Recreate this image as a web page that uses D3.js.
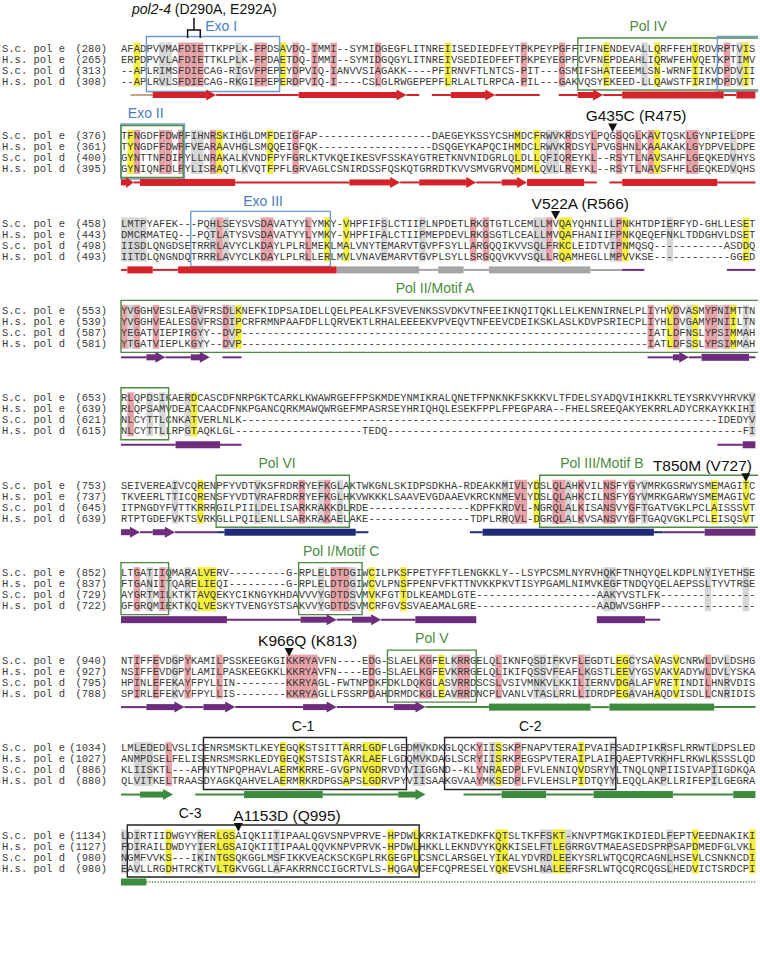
<!DOCTYPE html>
<html>
<head>
<meta charset="utf-8">
<script src="https://cdn.jsdelivr.net/npm/d3@7"></script>
<style>
body { margin: 0; background: #fff; }
</style>
</head>
<body>
<div id="chart"></div>
<script>
const gap = n => '-'.repeat(n)

const rowNames = ['S.c. pol e', 'H.s. pol e', 'S.c. pol d', 'H.s. pol d']

const startNums = [
    [280, 265, 313, 308], [376, 361, 400, 395], [458, 443, 498, 493], [553, 539, 587, 581],
    [653, 639, 621, 615], [753, 737, 645, 639], [852, 837, 729, 722], [940, 927, 795, 788],
    [1034, 1027, 886, 880], [1134, 1127, 980, 980]
]

const seqScPolE = [
    'AFADPVVMAFDIETTKPPLK-FPDSAVDQ-IMMI--SYMIDGEGFLITNREIISEDIEDFEYTPKPEYPGFFTIFNENDEVALLQRFFEHIRDVRPTVIS',
    'TFNGDFFDWPFIHNRSKIHGLDMFDEIGFAP' + gap(18) + 'DAEGEYKSSYCSHMDCFRWVKRDSYLPQGSQGLKAVTQSKLGYNPIELDPE',
    'LMTPYAFEK---PQHLSEYSVSDAVATYYLYMKY-VHPFIFSLCTIIPLNPDETLRKGTGTLCEMLLMVQAYQHNILLPNKHTDPIERFYD-GHLLESET',
    'YVGGHVESLEAGVFRSDLKNEFKIDPSAIDELLQELPEALKFSVEVENKSSVDKVTNFEEIKNQITQKLLELKENNIRNELPLIYHVDVASMYPNIMTTN',
    'RLQPDSIKAERDCASCDFNRPGKTCARKLKWAWRGEFFPSKMDEYNMIKRALQNETFPNKNKFSKKKVLTFDELSYADQVIHIKKRLTEYSRKVYHRVKV',
    'SEIVEREAIVCQRENPFYVDTVKSFRDRRYEFKGLAKTWKGNLSKIDPSDKHA-RDEAKKMIVLYDSLQLAHKVILNSFYGYVMRKGSRWYSMEMAGITC',
    'LTGATIIQMARALVERV' + gap(9) + 'G-RPLELDTDGIWCILPKSFPETYFFTLENGKKLY--LSYPCSMLNYRVHQKFTNHQYQELKDPLNYIYETHSE',
    'NTIFFEVDGPYKAMILPSSKEEGKGIKKRYAVFN----EDG-SLAELKGFELKRRGELQLIKNFQSDIFKVFLEGDTLEGCYSAVASVCNRWLDVLDSHG',
    'LMLEDEDLVSLICENRSMSKTLKEYEGQKSTSITTARRLGDFLGEDMVKDKGLQCKYIISSKPFNAPVTERAIPVAIFSADIPIKRSFLRRWTLDPSLED',
    'LDIRTIIDWGYYRERLGSAIQKIITIPAALQGVSNPVPRVE-HPDWLKRKIATKEDKFKQTSLTKFFSKT-KNVPTMGKIKDIEDLFEPTVEEDNAKIKI'
]

const seqHsPolE = [
    'ERPDPVVLAFDIETTKLPLK-FPDAETDQ-IMMI--SYMIDGQGYLITNREIVSEDIEDFEFTPKPEYEGPFCVFNEPDEAHLIQRWFEHVQETKPTIMV',
    'TYNGDFFDWPFVEARAAVHGLSMQQEIGFQK' + gap(18) + 'DSQGEYKAPQCIHMDCLRWVKRDSYLPVGSHNLKAAAKAKLGYDPVELDPE',
    'DMCRMATEQ---PQTLATYSVSDAVATYYLYMKY-VHPFIFALCTIIPMEPDEVLRKGSGTLCEALLMVQAFHANIIFPNKQEQEFNKLTDDGHVLDSET',
    'YVGGHVEALESGVFRSDIPCRFRMNPAAFDFLLQRVEKTLRHALEEEEKVPVEQVTNFEEVCDEIKSKLASLKDVPSRIECPLIYHLDVGAMYPNIILTN',
    'RLQPSAMVDEATCAACDFNKPGANCQRKMAWQWRGEFMPASRSEYHRIQHQLESEKFPPLFPEGPARA--FHELSREEQAKYEKRRLADYCRKAYKKIHI',
    'TKVEERLTTICQRENSFYVDTVRAFRDRRYEFKGLHKVWKKKLSAAVEVGDAAEVKRCKNMEVLYDSLQLAHKCILNSFYGYVMRKGARWYSMEMAGIVC',
    'FTGANIITQARELIEQI' + gap(9) + 'G-RPLELDTDGIWCVLPNSFPENFVFKTTNVKKPKVTISYPGAMLNIMVKEGFTNDQYQELAEPSSLTYVTRSE',
    'NSIFFEVDGPYLAMILPASKEEGKKLKKRYAVFN----EDG-SLAELKGFEVKRRGELQLIKIFQSSVFEAFLKGSTLEEVYGSVAKVADYWLDVLYSKA',
    'ANMPDSELFELISENRSMSRKLEDYGEQKSTSISTAKRLAEFLGDQMVKDAGLSCRYIISRKPEGSPVTERAIPLAIFQAEPTVRKHFLRKWLKSSSLQD',
    'FDIRAILDWDYYIERLGSAIQKIITIPAALQQVKNPVPRVK-HPDWLHKKLLEKNDVYKQKKISELFTLEGRRGVTMAEASEDSPRPSAPDMEDFGLVKL'
]

const seqScPolD = [
    '--APLRIMSFDIECAG-RIGVFPEPEYDPVIQ-IANVVSIAGAKK----PFIRNVFTLNTCS-PIT---GSMIFSHATEEEMLSN-WRNFIIKVDPDVII',
    'GYNTTNFDIPYLLNRAKALKVNDFPYFGRLKTVKQEIKESVFSSKAYGTRETKNVNIDGRLQLDLLQFIQREYKL--RSYTLNAVSAHFLGEQKEDVHYS',
    'IISDLQNGDSETRRRLAVYCLKDAYLPLRLMEKLMALVNYTEMARVTGVPFSYLLARGQQIKVVSQLFRKCLEIDTVIPNMQSQ' + gap(11) + 'ASDDQ',
    'YEGATVIEPIRGYY--DVP' + gap(64) + 'IATLDFNSLYPSIMMAH',
    'NLCYTTLCNKATVERLNLK' + gap(75) + 'IDEDYV',
    'ITPNGDYFVTTKRRRGILPIILDELISARKRAKKDLRDE' + gap(16) + 'KDPFKRDVL-NGRQLALKISANSVYGFTGATVGKLPCLAISSSVT',
    'AYGRTMILKTKTAVQEKYCIKNGYKHDAVVVYGDTDSVMVKFGTTDLKEAMDLGTE' + gap(19) + 'AAKYVSTLFK' + gap(15),
    'HPINLEFEKAYFPYLLIN' + gap(8) + 'KKRYAGL-FWTNPDKFDKLDQKGLASVRRDSCSLVSIVMNKVLKKILIERNVDGALAFVRETINDILHNRVDIS',
    'KLIISKTL---APNYTNPQPHAVLAERMKRRE-GVGPNVGDRVDYVIIGGND--KLYNRAEDPLFVLENNIQVDSRYYLTNQLQNPIISIVAPIIGDKQA',
    'NGMFVVKS---IKINTGSQKGGLMSFIKKVEACKSCKGPLRKGEGPLCSNCLARSGELYIKALYDVRDLEEKYSRLWTQCQRCAGNLHSEVLCSNKNCDI'
]

const seqHsPolD = [
    '--APLRVLSFDIECAG-RKGIFPEPERDPVIQ-I----CSLGLRWGEPEPFLRLALTLRPCA-PIL---GAKVQSYEKEED-LLQAWSTFIRIMDPDVIT',
    'GYNIQNFDLPYLISRAQTLKVQTFPFLGRVAGLCSNIRDSSFQSKQTGRRDTKVVSMVGRVQMDMLQVLLREYKL--RSYTLNAVSFHFLGEQKEDVQHS',
    'IITDLQNGNDQTRRRLAVYCLKDAYLPLRLLERLMVLVNAVEMARVTGVPLSYLLSRGQQVKVVSQLLRQAMHEGLLMPVVKSE' + gap(12) + 'GGED',
    'YTGATVIEPLKGYY--DVP' + gap(64) + 'IATLDFSSLYPSIMMAH',
    'NLCYTTLLRPGTAQKLGL' + gap(20) + 'TEDQ' + gap(56) + 'FI',
    'RTPTGDEFVKTSVRKGLLPQILENLLSARKRAKAELAKE' + gap(16) + 'TDPLRRQVL-DGRQLALKVSANSVYGFTGAQVGKLPCLEISQSVT',
    'GFGRQMIEKTKQLVESKYTVENGYSTSAKVVYGDTDSVMCRFGVSSVAEAMALGRE' + gap(19) + 'AADWVSGHFP' + gap(15),
    'SPIRLEFEKVYFPYLLIS' + gap(8) + 'KKRYAGLLFSSRPDAHDRMDCKGLEAVRRDNCPLVANLVTASLRRLLIDRDPEGAVAHAQDVISDLLCNRIDIS',
    'QLVITKELTRAASDYAGKQAHVELAERMRKRDPGSAPSLGDRVPYVIISAAKGVAAYMKSEDPLFVLEHSLPIDTQYYLEQQLAKPLLRIFEPILGEGRA',
    'EAVLLRGDHTRCKTVLTGKVGGLLAFAKRRNCCIGCRTVLS-HQGAVCEFCQPRESELYQKEVSHLNALEERFSRLWTQCQRCQGSLHEDVICTSRDCPI'
]

// highlighted alignment columns per block
const hlRed = [
    [9, 10, 11, 12, 21, 22, 27, 30, 33, 40, 63, 69, 95],
    [2, 6, 7, 9, 14, 27, 70, 74, 78, 81, 83, 89, 90],
    [15, 22, 23, 29, 55, 57, 67, 78],
    [0, 2, 5, 11, 16, 83, 87, 92, 93, 95],
    [1],
    [28, 32, 62, 63, 68, 69, 72, 76, 77, 80],
    [2, 6, 33, 34, 35],
    [2, 5, 10, 15, 26, 27, 28, 29, 30, 39, 47, 48, 53, 54, 59, 72, 92],
    [7, 56, 62],
    []
]
const hlYellow = [
    [2, 25, 51, 76, 84, 90, 98],
    [1, 15, 23, 62, 65, 84],
    [32, 35, 69, 70, 79, 98],
    [18, 86, 90, 96],
    [11],
    [12, 65, 93, 98],
    [12, 13, 14, 39, 44],
    [50, 78, 79, 84, 87],
    [25, 28, 35, 38, 39, 40, 59, 72],
    [7, 15, 16, 17, 42, 46, 59, 60, 68, 69, 90, 99]
]
const hlGray = [
    [6, 7, 18, 82, 97],
    [11, 12, 19, 67, 68, 96],
    [0, 1, 2, 3, 14, 16, 41, 47, 65, 66, 77, 86],
    [1, 12, 17, 89, 94, 98],
    [4, 6, 10, 99],
    [8, 21, 31, 34, 60, 70, 82],
    [4, 7, 10, 31, 36, 76, 77, 92, 98],
    [8, 52, 65, 66, 68, 73, 80, 95],
    [2, 3, 4, 46, 47, 58, 77, 85, 93],
    [0, 2, 12, 24, 66, 67, 70, 86]
]

// secondary structure: [from col, to col, shape, colour key]
const secStruct = [
    [[1.5, 5, 'line', 't'], [5, 15, 'arrow', 'r'], [15, 28, 'line', 'r'], [28, 45, 'arrow', 'r'], [45, 47, 'line', 'r'],
     [49, 52, 'line', 'r'], [52, 59, 'arrow', 'r'], [59, 66, 'line', 'r'], [69, 72, 'line', 'r'], [72, 76, 'arrow', 'r'],
     [76, 79, 'line', 'r'], [79, 95, 'bar', 'r'], [95, 97, 'line', 'r'], [97, 100, 'bar', 'r']],
    [[0, 2, 'arrow', 'r'], [2, 3, 'line', 'r'], [3, 18, 'bar', 'r'], [18, 36, 'line', 'r'], [36, 44, 'arrow', 'r'],
     [44, 47, 'line', 'r'], [47, 56, 'arrow', 'r'], [56, 60, 'line', 'r'], [60, 64, 'arrow', 'r'], [64, 73, 'bar', 'r'],
     [73, 75, 'line', 'r'], [77, 79, 'line', 'r'], [79, 94, 'bar', 'r'], [94, 100, 'line', 'r']],
    [[0, 1, 'line', 'r'], [1, 5, 'bar', 'r'], [5, 9, 'line', 'r'], [9, 34, 'bar', 'r'], [34, 47, 'bar', 'g'],
     [47, 50, 'line', 'g'], [50, 54, 'bar', 'g'], [54, 58, 'line', 'g'], [58, 74, 'bar', 'g'], [74, 79, 'line', 'g'],
     [79, 82.5, 'line', 'p'], [95.5, 100, 'line', 'p']],
    [[0, 4, 'line', 'p'], [4, 7, 'arrow', 'p'], [7, 11, 'line', 'p'], [11, 14, 'arrow', 'p'], [16, 19, 'line', 'p'],
     [83, 87, 'line', 'p'], [87, 89.5, 'arrow', 'p'], [89.5, 91.5, 'line', 'p'], [91.5, 99, 'bar', 'p'], [99, 100, 'line', 'p']],
    [[0, 8.6, 'line', 'p'], [8.6, 15.6, 'bar', 'p'], [15.6, 19, 'line', 'p'], [94, 98, 'line', 'p'], [98, 100, 'bar', 'p']],
    [[0, 3, 'arrow', 'p'], [3, 5, 'line', 'p'], [5, 8.5, 'arrow', 'p'], [8.5, 15, 'line', 'p'], [15, 16.3, 'line', 'b'],
     [16.3, 37, 'bar', 'b'], [37, 39, 'line', 'b'], [55, 57, 'line', 'b'], [57, 84, 'bar', 'b'], [84, 85.5, 'line', 'b'],
     [85.5, 92, 'line', 'p'], [92, 100, 'bar', 'p']],
    [[0, 16.7, 'bar', 'p'], [16.7, 28.3, 'line', 'p'], [28.3, 34, 'arrow', 'p'], [34, 36.4, 'line', 'p'], [36.4, 41, 'arrow', 'p'],
     [41, 46.4, 'line', 'p'], [46.4, 56, 'bar', 'p'], [75, 82.6, 'bar', 'p'], [82.6, 85, 'line', 'p']],
    [[0, 4, 'line', 'p'], [4, 10, 'arrow', 'p'], [10, 13, 'line', 'p'], [13, 18, 'arrow', 'p'], [18, 28.7, 'line', 'p'],
     [28.7, 34, 'arrow', 'p'], [34, 43, 'line', 'p'], [43, 48, 'arrow', 'p'], [48, 58, 'line', 'e'], [58, 74, 'bar', 'e'],
     [74, 77, 'line', 'e'], [77, 93.5, 'bar', 'e'], [93.5, 100, 'line', 'e']],
    [[0, 3, 'line', 'e'], [3, 8.2, 'arrow', 'e'], [11.7, 19.4, 'line', 'e'], [19.4, 31.8, 'bar', 'e'], [31.8, 43.7, 'line', 'e'],
     [43.7, 48, 'arrow', 'e'], [54, 60, 'line', 'e'], [60, 67, 'bar', 'e'], [67, 74.5, 'line', 'e'], [74.5, 87, 'bar', 'e'],
     [87, 96.5, 'line', 'e'], [96.5, 100, 'bar', 'e']],
    [[0, 4, 'bar', 'e'], [4, 100, 'dots', 'e']]
]

// motif boxes: block, from col, to col (null = runs on), kind, label, label centre col
const boxes = [
    { b: 0, c0: 4, c1: 25, kind: 'exo', label: 'Exo I', lc: 15.8 },
    { b: 0, c0: 72, c1: null, kind: 'pol', label: 'Pol IV', lc: 83.1 },
    { b: 0, c0: 94, c1: null, kind: 'exo', label: '', lc: 0 },
    { b: 1, c0: 0, c1: 10, kind: 'exo', label: 'Exo II', lc: 3.9 },
    { b: 1, c0: 0, c1: 9.8, kind: 'pol', label: '', lc: 0 },
    { b: 2, c0: 11, c1: 33, kind: 'exo', label: 'Exo III', lc: 22.4 },
    { b: 3, c0: 0, c1: null, kind: 'pol', label: 'Pol II/Motif A', lc: 49.5 },
    { b: 4, c0: 0, c1: 7.5, kind: 'pol', label: '', lc: 0 },
    { b: 5, c0: 15, c1: 36, kind: 'pol', label: 'Pol VI', lc: 24.6 },
    { b: 5, c0: 66, c1: null, kind: 'pol', label: 'Pol III/Motif B', lc: 75.8 },
    { b: 6, c0: 0, c1: 7.5, kind: 'pol', label: '', lc: 0 },
    { b: 6, c0: 28, c1: 38, kind: 'pol', label: 'Pol I/Motif C', lc: 34.7 },
    { b: 7, c0: 42, c1: 56, kind: 'pol', label: 'Pol V', lc: 49 },
    { b: 8, c0: 13, c1: 45, kind: 'c', label: 'C-1', lc: 28.7 },
    { b: 8, c0: 51, c1: 78, kind: 'c', label: 'C-2', lc: 64.5 },
    { b: 9, c0: 1, c1: 47, kind: 'c', label: 'C-3', lc: 10.9 }
]

// point mutations
const mutations = [
    { b: 1, col: 77, label: 'G435C (R475)' },
    { b: 2, col: 68, label: 'V522A (R566)' },
    { b: 5, col: 98, label: 'T850M (V727)' },
    { b: 7, col: 26, label: 'K966Q (K813)' },
    { b: 9, col: 18, label: 'A1153D (Q995)' }
]
const mutLabelDx = [-27, -24, -93, -31, -5]

const width = 760
const height = 978

const mono = "'Liberation Mono', 'DejaVu Sans Mono', monospace"
const sans = "'Liberation Sans', Arial, sans-serif"

const colors = {
    r: '#d42228', t: '#c9a585', g: '#a5a5a5', p: '#6d2c7d', b: '#1f2b78', e: '#3d8b3d'
}
const boxColor = { exo: '#6f9bd2', pol: '#4f8a43', c: '#222' }
const labelColor = { exo: '#4a7cc4', pol: '#4b8a3e', c: '#111' }

const svg = d3.select('#chart').append('svg')
    .attr('width', width)
    .attr('height', height)
    .style('background', '#fff')

const x = d3.scaleLinear().domain([0, 100]).range([121, 755.4])
const cw = x(1) - x(0)
const blockY = d3.scaleLinear().domain([0, 9]).range([48, 835])
const rowY = d3.scaleLinear().domain([0, 3]).range([0, 33])
const rowH = rowY(1) - rowY(0)

const seqs = d3.range(10).map(b => [seqScPolE[b], seqHsPolE[b], seqScPolD[b], seqHsPolD[b]]
    .map(s => s.padEnd(100, '-').slice(0, 100)))

const blocks = svg.selectAll('.block')
    .data(d3.range(10))
    .enter().append('g')
    .attr('class', 'block')
    .attr('transform', b => `translate(0,${blockY(b)})`)

// column shading
const shade = [['#d6d6d6', hlGray], ['#e6a2a7', hlRed], ['#f4ef3a', hlYellow]]
shade.forEach(([fill, cols]) => {
    blocks.selectAll(null)
        .data(b => cols[b])
        .enter().append('rect')
        .attr('x', c => x(c))
        .attr('y', rowY(0) - rowH / 2)
        .attr('width', cw + 0.2)
        .attr('height', rowH * 4)
        .attr('fill', fill)
})

// row names and start numbers
blocks.each(function (b) {
    const g = d3.select(this)
    rowNames.forEach((name, i) => {
        g.append('text')
            .attr('x', 2)
            .attr('y', rowY(i))
            .attr('dy', '0.35em')
            .style('font-family', mono)
            .style('font-size', '10.5px')
            .attr('fill', '#3a3a3a')
            .text(name)
        g.append('text')
            .attr('x', 107)
            .attr('y', rowY(i))
            .attr('dy', '0.35em')
            .attr('text-anchor', 'end')
            .style('font-family', mono)
            .style('font-size', '10.5px')
            .attr('fill', '#3a3a3a')
            .text(`(${startNums[b][i]})`)
    })
})

// residues
const rows = blocks.selectAll('.row')
    .data(b => seqs[b])
    .enter().append('g')
    .attr('class', 'row')
    .attr('transform', (s, i) => `translate(0,${rowY(i)})`)

rows.selectAll('text')
    .data(s => s.split(''))
    .enter().append('text')
    .attr('x', (ch, c) => x(c) + cw / 2)
    .attr('dy', '0.35em')
    .attr('text-anchor', 'middle')
    .style('font-family', mono)
    .style('font-size', '10.5px')
    .attr('fill', '#3a3a3a')
    .text(ch => ch)

// motif boxes
const boxTop = rowY(0) - 10
const boxBot = rowY(3) + 9
const xRight = 758

boxes.forEach(bx => {
    const g = blocks.filter(b => b === bx.b)
    const x0 = x(bx.c0)
    const x1 = bx.c1 === null ? xRight : x(bx.c1)
    const pad = bx.kind === 'exo' ? 1.5 : 0
    const top = boxTop - pad
    const bot = boxBot + pad
    const path = bx.c1 === null
        ? `M${x1},${top}H${x0}V${bot}H${x1}`
        : `M${x0},${top}H${x1}V${bot}H${x0}Z`
    g.append('path')
        .attr('d', path)
        .attr('fill', 'none')
        .attr('stroke', boxColor[bx.kind])
        .attr('stroke-width', 1.4)
    if (bx.label) {
        g.append('text')
            .attr('x', x(bx.lc))
            .attr('y', boxTop - 7)
            .attr('text-anchor', 'middle')
            .style('font-family', sans)
            .style('font-size', '14px')
            .attr('fill', labelColor[bx.kind])
            .text(bx.label)
    }
})

// secondary structure track
const ssY = rowY(3) + 14
blocks.each(function (b) {
    const g = d3.select(this).append('g').attr('transform', `translate(0,${ssY})`)
    secStruct[b].forEach(([c0, c1, shape, key]) => {
        const col = colors[key]
        const xa = x(c0)
        const xb = Math.min(x(c1), 757)
        if (shape === 'line' || shape === 'dots') {
            g.append('line')
                .attr('x1', xa).attr('x2', xb)
                .attr('stroke', col)
                .attr('stroke-width', shape === 'dots' ? 1.6 : 2)
                .attr('stroke-dasharray', shape === 'dots' ? '1.2,1.6' : null)
        } else if (shape === 'bar') {
            g.append('rect')
                .attr('x', xa).attr('y', -3.5)
                .attr('width', xb - xa).attr('height', 7)
                .attr('fill', col)
        } else {
            const head = Math.min(10, (xb - xa) * 0.6)
            g.append('rect')
                .attr('x', xa).attr('y', -3)
                .attr('width', xb - xa - head + 0.5).attr('height', 6)
                .attr('fill', col)
            g.append('path')
                .attr('d', `M${xb - head},-5.5L${xb},0L${xb - head},5.5Z`)
                .attr('fill', col)
        }
    })
})

// mutation markers
mutations.forEach((m, i) => {
    const g = blocks.filter(b => b === m.b)
    const xc = x(m.col) + cw / 2
    const y0 = rowY(0) - 12
    g.append('path')
        .attr('d', `M${xc - 4.5},${y0}L${xc + 4.5},${y0}L${xc},${y0 + 8.5}Z`)
        .attr('fill', '#111')
    g.append('text')
        .attr('x', xc + mutLabelDx[i])
        .attr('y', y0 - 2)
        .style('font-family', sans)
        .style('font-size', '15.5px')
        .attr('fill', '#111')
        .text(m.label)
})

// pol2-4 exonuclease-dead allele
const first = blocks.filter(b => b === 0)
const xD = x(10) + cw / 2
const xE = x(12) + cw / 2
const xMid = (xD + xE) / 2
first.append('path')
    .attr('d', `M${xMid},${rowY(0) - 30}V${rowY(0) - 18}M${xD},${rowY(0) - 10}V${rowY(0) - 18}H${xE}V${rowY(0) - 10}`)
    .attr('fill', 'none')
    .attr('stroke', '#111')
    .attr('stroke-width', 1.5)
const pol24 = first.append('text')
    .attr('x', 132)
    .attr('y', rowY(0) - 34)
    .style('font-family', sans)
    .style('font-size', '14px')
    .attr('fill', '#111')
pol24.append('tspan').style('font-style', 'italic').text('pol2-4')
pol24.append('tspan').text(' (D290A, E292A)')
</script>
</body>
</html>
